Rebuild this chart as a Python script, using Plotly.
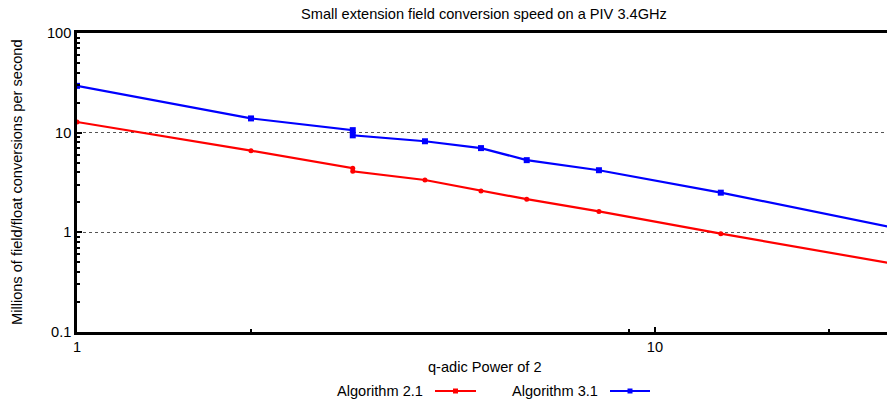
import plotly.graph_objects as go

q_power = [1, 2, 3, 3, 4, 5, 6, 8, 13, 32]
alg21 = [12.8, 6.6, 4.4, 4.1, 3.35, 2.6, 2.15, 1.62, 0.97, 0.39]
alg31 = [29.5, 13.9, 10.6, 9.4, 8.2, 7.0, 5.3, 4.2, 2.5, 0.87]

title = "Small extension field conversion speed on a PIV 3.4GHz"
x_title = "q-adic Power of 2"
y_title = "Millions of field/float conversions per second"
y_ticks = [0.1, 1, 10, 100]
y_ticktext = ["0.1", "1", "10", "100"]
x_ticks = [1, 10]
x_minor = [2, 9, 20]
y_minor = [v * m for m in (0.1, 1, 10) for v in range(2, 10)]

FONT = "Liberation Sans, Arial, sans-serif"
RED = "#ff0000"
BLUE = "#0000ff"
FS = 14.6

fig = go.Figure()
fig.add_trace(go.Scatter(x=q_power, y=alg21, mode="lines+markers", name="Algorithm 2.1",
                         line=dict(color=RED, width=2.2), cliponaxis=False,
                         marker=dict(symbol="circle", size=5, color=RED), showlegend=False))
fig.add_trace(go.Scatter(x=q_power, y=alg31, mode="lines+markers", name="Algorithm 3.1",
                         line=dict(color=BLUE, width=2.2), cliponaxis=False,
                         marker=dict(symbol="square", size=6, color=BLUE), showlegend=False))

fig.update_layout(
    width=888, height=403,
    margin=dict(l=77, r=1, t=33, b=71, autoexpand=False),
    paper_bgcolor="white", plot_bgcolor="white",
    font=dict(family=FONT, size=FS, color="black"),
    showlegend=False,
)
fig.update_xaxes(type="log", range=[0, 1.4015], tickvals=x_ticks, ticktext=["1", "10"],
                 ticks="inside", ticklen=5, tickwidth=1.5, tickcolor="black",
                 showline=True, linecolor="black", linewidth=2.5, mirror=True,
                 showgrid=False, zeroline=False, automargin=False,
                 minor=dict(tickvals=x_minor, ticks="inside", ticklen=3, tickcolor="black", showgrid=False),
                 tickfont=dict(size=FS, family=FONT))
fig.update_yaxes(type="log", range=[-1, 2], tickvals=y_ticks, ticktext=y_ticktext,
                 ticks="inside", ticklen=5, tickwidth=1.5, tickcolor="black",
                 showline=True, linecolor="black", linewidth=2.5, mirror=False,
                 showgrid=True, gridcolor="#555555", griddash="dot", gridwidth=1,
                 zeroline=False, automargin=False,
                 minor=dict(tickvals=y_minor, ticks="inside", ticklen=3, tickcolor="black", showgrid=False),
                 tickfont=dict(size=FS, family=FONT))

def px_x(px):
    return (px - 77) / (887 - 77)

def px_y(py):
    return (332 - py) / (332 - 33)

# titles
fig.add_annotation(x=px_x(484), y=px_y(14), xref="paper", yref="paper", text=title,
                   showarrow=False, xanchor="center", yanchor="middle", font=dict(size=FS))
fig.add_annotation(x=px_x(485), y=px_y(367), xref="paper", yref="paper", text=x_title,
                   showarrow=False, xanchor="center", yanchor="middle", font=dict(size=FS))
fig.add_annotation(x=px_x(17), y=px_y(182), xref="paper", yref="paper", text=y_title,
                   showarrow=False, xanchor="center", yanchor="middle", textangle=-90,
                   font=dict(size=FS))

# custom legend (text left, sample right)
ly = 391
for label, color, tx, lx0, lx1 in [("Algorithm 2.1", RED, 425, 435, 476),
                                    ("Algorithm 3.1", BLUE, 600, 610, 650)]:
    fig.add_annotation(x=px_x(tx), y=px_y(ly), xref="paper", yref="paper", text=label,
                       showarrow=False, xanchor="right", yanchor="middle", font=dict(size=FS))
    fig.add_shape(type="line", xref="paper", yref="paper", x0=px_x(lx0), x1=px_x(lx1),
                  y0=px_y(ly), y1=px_y(ly), line=dict(color=color, width=2.2))
    mx = (lx0 + lx1) / 2
    fig.add_shape(type="rect", xref="paper", yref="paper", x0=px_x(mx - 2.5), x1=px_x(mx + 2.5),
                  y0=px_y(ly + 2.5), y1=px_y(ly - 2.5), line=dict(color=color, width=0),
                  fillcolor=color)

fig.write_html("out.html", config={"displayModeBar": False},
               post_script="document.body.style.margin='0';")
